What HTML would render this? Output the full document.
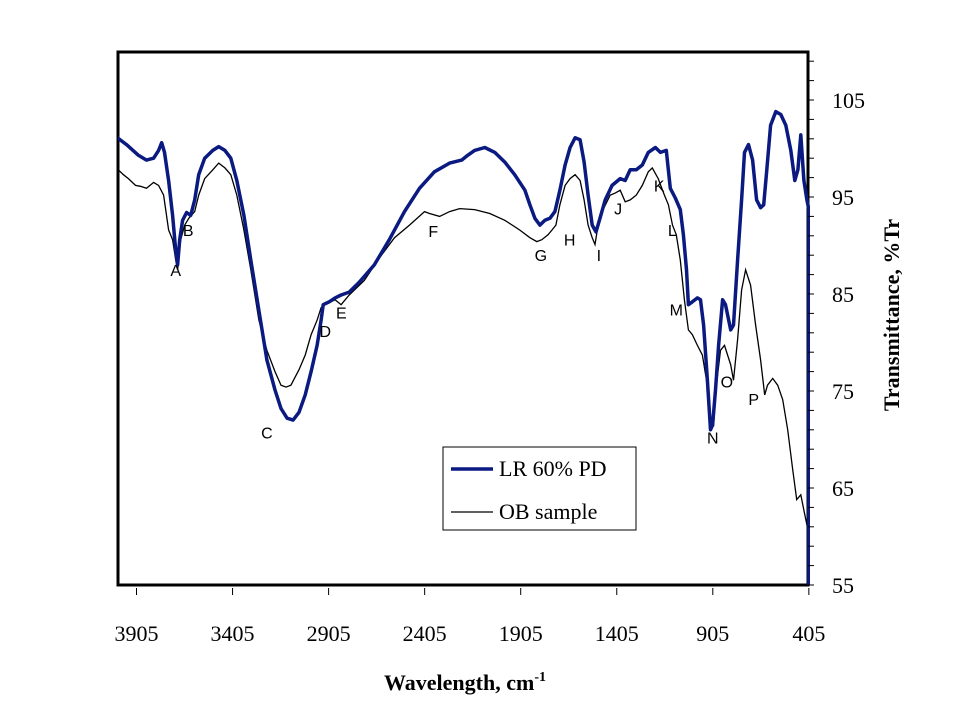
<!DOCTYPE html>
<html><head><meta charset="utf-8"><style>
html,body{margin:0;padding:0;background:#fff;}
svg{display:block;}
</style></head><body>
<svg id="chart" width="960" height="720" xmlns="http://www.w3.org/2000/svg"></svg>
<script>
const lrWave=[4010,3957,3895,3853,3816,3790,3774,3759,3738,3717,3701,3691,3680,3665,3644,3623,3602,3581,3550,3508,3477,3445,3414,3383,3346,3310,3268,3226,3184,3153,3121,3090,3059,3027,2996,2965,2944,2933,2902,2871,2840,2798,2746,2667,2589,2510,2432,2354,2275,2212,2181,2145,2092,2040,1988,1936,1883,1857,1831,1805,1779,1753,1727,1701,1674,1648,1622,1596,1575,1554,1533,1513,1492,1465,1429,1387,1361,1335,1303,1272,1241,1204,1178,1147,1126,1100,1074,1058,1042,1032,1011,985,969,953,933,917,906,891,875,854,839,812,797,776,755,740,719,698,677,656,640,624,604,577,551,525,499,478,462,447,431,415,405,405];
const lrTrans=[101.2,100.4,99.3,98.8,99.0,99.8,100.6,99.6,96.7,93.1,89.5,88.0,90.6,92.6,93.4,93.1,94.7,97.3,99.0,99.8,100.2,99.8,99.0,96.7,93.1,88.5,83.3,78.2,75.1,73.2,72.2,72.0,72.8,74.6,77.0,79.7,82.3,83.9,84.2,84.6,84.9,85.2,86.2,88.0,90.6,93.5,95.9,97.6,98.5,98.8,99.3,99.8,100.1,99.6,98.6,97.3,95.7,94.2,92.8,92.1,92.6,92.8,93.5,95.7,98.3,100.1,101.1,100.9,98.6,95.2,92.1,91.4,92.8,94.7,96.2,96.9,96.7,97.8,97.8,98.3,99.6,100.1,99.6,99.8,95.9,94.9,93.7,91.1,87.5,83.9,84.2,84.6,84.4,81.8,76.1,71.0,71.5,75.1,79.7,84.4,83.9,81.3,81.8,88.5,94.7,99.6,100.4,98.8,94.7,93.9,94.2,97.8,102.4,103.8,103.5,102.4,99.8,96.7,97.8,101.4,96.7,94.7,93.7,55];
const obWave=[4010,3973,3947,3910,3884,3853,3816,3790,3764,3738,3717,3701,3691,3675,3654,3633,3602,3581,3550,3508,3477,3445,3414,3383,3346,3310,3268,3226,3184,3153,3127,3101,3059,3027,2996,2965,2944,2923,2871,2840,2798,2719,2641,2562,2484,2406,2380,2327,2275,2223,2145,2066,1988,1910,1857,1821,1795,1763,1742,1722,1701,1674,1648,1622,1596,1575,1554,1533,1518,1502,1476,1439,1413,1387,1361,1335,1303,1272,1241,1220,1189,1157,1136,1115,1095,1074,1053,1032,1011,985,959,938,917,901,886,865,844,812,797,776,755,734,708,682,656,635,620,593,567,541,515,489,468,447,431,415,405];
const obTrans=[98.0,97.3,96.9,96.2,96.1,95.9,96.5,96.2,95.2,91.6,90.6,88.5,87.5,90.6,92.1,92.8,93.5,95.2,96.9,97.8,98.5,98.0,97.3,95.2,91.6,87.5,82.3,79.2,77.0,75.6,75.4,75.6,77.2,78.7,80.8,82.3,83.6,83.9,84.4,83.9,84.9,86.4,88.7,90.8,92.1,93.5,93.3,93.0,93.5,93.8,93.7,93.3,92.6,91.6,90.8,90.4,90.6,91.1,91.6,92.1,94.2,96.2,96.9,97.3,96.7,94.7,92.1,90.8,90.1,92.1,93.7,95.2,95.4,95.7,94.5,94.7,95.2,96.2,97.6,98.0,96.9,95.2,94.2,92.1,91.1,88.5,84.4,81.3,80.8,79.7,78.7,76.1,72.0,71.5,75.6,79.2,79.7,77.7,76.1,80.3,85.4,87.5,85.9,81.8,78.2,74.6,75.6,76.3,75.6,74.1,71.0,66.9,63.8,64.3,62.7,61.2,60.1];
const xTicks=[3905,3405,2905,2405,1905,1405,905,405];
const yTicks=[105,95,85,75,65,55];
const peakLabels=["A","B","C","D","E","F","G","H","I","J","K","L","M","N","O","P"];
const peakWave=[3701,3636,3226,2922,2839,2360,1800,1650,1498,1398,1184,1116,1095,905,832,692];
const peakTrans=[87.5,91.6,70.7,81.2,83.1,91.5,89.0,90.6,89.0,93.8,96.2,91.6,83.4,70.2,76.0,74.2];

const NS="http://www.w3.org/2000/svg";
const svg=document.getElementById('chart');
const L=118,R=808,T=52,B=585;
function xs(w){return 136.5+(3905-w)*0.1921;}
function ys(v){return 100+(105-v)*9.7;}
function mk(tag,attrs,parent){const e=document.createElementNS(NS,tag);for(const k in attrs)e.setAttribute(k,attrs[k]);(parent||svg).appendChild(e);return e;}

const clip=mk('clipPath',{id:'pc'});mk('rect',{x:L,y:T,width:R-L+2,height:B-T+2},clip);

const ob=mk('polyline',{points:obWave.map((w,i)=>xs(w).toFixed(1)+','+ys(obTrans[i]).toFixed(1)).join(' '),fill:'none',stroke:'#000',"stroke-width":1.3,"clip-path":'url(#pc)'});



const frame=mk('rect',{x:L,y:T,width:R-L,height:B-T,fill:'none',stroke:'#000',"stroke-width":3});



const lr=mk('polyline',{points:lrWave.map((w,i)=>xs(w).toFixed(1)+','+ys(lrTrans[i]).toFixed(1)).join(' '),fill:'none',stroke:'#0a1a80',"stroke-width":3.5,"stroke-linejoin":'round',"clip-path":'url(#pc)'});



xTicks.forEach(v=>{
  const t=mk('line',{x1:xs(v),x2:xs(v),y1:588,y2:595,stroke:'#000',"stroke-width":1});
  
  
  const tx=mk('text',{x:xs(v),y:641,"text-anchor":'middle',"font-family":'Liberation Serif, serif',"font-size":22});
  tx.textContent=v;
  
  
});
for(let v=55;v<=109;v+=2){
  const t=mk('line',{x1:R,x2:R+6,y1:ys(v),y2:ys(v),stroke:'#000',"stroke-width":1});
  
  
}
yTicks.forEach(v=>{
  const tx=mk('text',{x:832,y:ys(v)+8,"font-family":'Liberation Serif, serif',"font-size":22});
  tx.textContent=v;
  
  
});
peakLabels.forEach((s,i)=>{
  const tx=mk('text',{x:xs(peakWave[i]),y:ys(peakTrans[i])+6,"text-anchor":'middle',"font-family":'Liberation Sans, sans-serif',"font-size":16});
  tx.textContent=s;
  
  
});
</script>
<svg style="position:absolute;left:0;top:0" width="960" height="720" xmlns="http://www.w3.org/2000/svg">
  <g>
    <rect x="443" y="447" width="193" height="83" fill="#fff" stroke="#000" stroke-width="1"/>
    <line x1="451" y1="469" x2="493" y2="469" stroke="#0a1a80" stroke-width="3.5"/>
    <text x="499" y="476" font-family="Liberation Serif, serif" font-size="22">LR 60% PD</text>
    <line x1="451" y1="512" x2="493" y2="512" stroke="#000" stroke-width="1.3"/>
    <text x="499" y="519" font-family="Liberation Serif, serif" font-size="22">OB sample</text>
  </g>
  <text x="465" y="690" text-anchor="middle" font-family="Liberation Serif, serif" font-size="22" font-weight="bold">Wavelength, cm<tspan dy="-9" font-size="14">-1</tspan></text>
  <text transform="translate(899,315) rotate(-90)" text-anchor="middle" font-family="Liberation Serif, serif" font-size="22" font-weight="bold">Transmittance, %Tr</text>
</svg>
</body></html>
